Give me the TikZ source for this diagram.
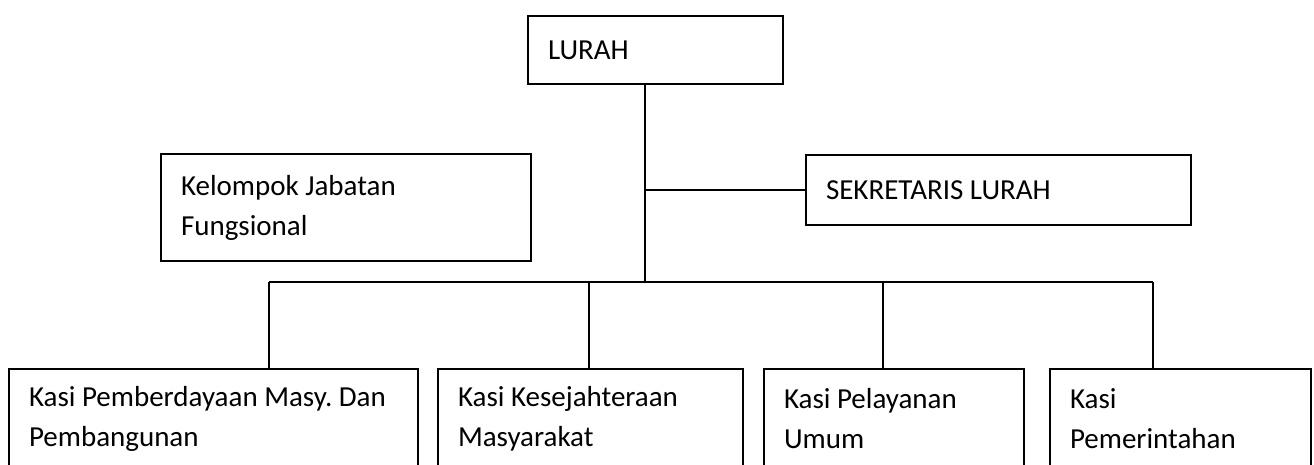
\documentclass[tikz,border=0pt]{standalone}
\usepackage{fontspec}
\setmainfont{Carlito}
\usepackage{tikz}

\tikzset{
  jabatan/.style={draw, line width=1pt, rectangle, anchor=north west,
    align=flush left, inner xsep=10pt, inner ysep=0pt,
    font=\fontsize{14.5}{20}\selectfont\frenchspacing},
  garis/.style={line width=1pt}
}

\begin{document}
\begin{tikzpicture}[x=0.5pt,y=-0.5pt]
\useasboundingbox (0,0) rectangle (1314,465);
            % Boxes
\node[jabatan, minimum width=127.5pt, minimum height=34pt, text width=107.5pt] (lurah) at (527,15) {LURAH};
\node[jabatan, minimum width=185pt, minimum height=53.5pt, text width=165pt] (fungsional) at (160,153) {Kelompok Jabatan\\Fungsional};
\node[jabatan, minimum width=192.5pt, minimum height=35pt, text width=172.5pt] (sekretaris) at (805,154) {SEKRETARIS LURAH};
\node[jabatan, minimum width=204.5pt, minimum height=50pt, text width=184.5pt] (pemberdayaan) at (8,368) {Kasi Pemberdayaan Masy. Dan\\Pembangunan};
\node[jabatan, minimum width=152.5pt, minimum height=50pt, text width=132.5pt] (kesejahteraan) at (437,368) {Kasi Kesejahteraan\\Masyarakat};
\node[jabatan, minimum width=130pt, minimum height=50pt, text width=110pt] (pelayanan) at (763,368) {Kasi Pelayanan\\Umum};
\node[jabatan, minimum width=130.5pt, minimum height=50pt, text width=110.5pt] (pemerintahan) at (1049,368) {Kasi\\Pemerintahan};
%Lines
\coordinate (cabang) at (645,190);
\coordinate (bus) at (645,282);
\coordinate (d1) at (269,282);
\coordinate (d2) at (589,282);
\coordinate (d3) at (883,282);
\coordinate (d4) at (1153,282);
\draw[garis] (lurah.south -| bus) -- (bus);
\draw[garis] (cabang) -- (cabang -| sekretaris.west);
\draw[garis] (d1) -- (d4);
\draw[garis] (d1) -- (d1 |- pemberdayaan.north);
\draw[garis] (d2) -- (d2 |- kesejahteraan.north);
\draw[garis] (d3) -- (d3 |- pelayanan.north);
\draw[garis] (d4) -- (d4 |- pemerintahan.north);
\end{tikzpicture}
\end{document}
